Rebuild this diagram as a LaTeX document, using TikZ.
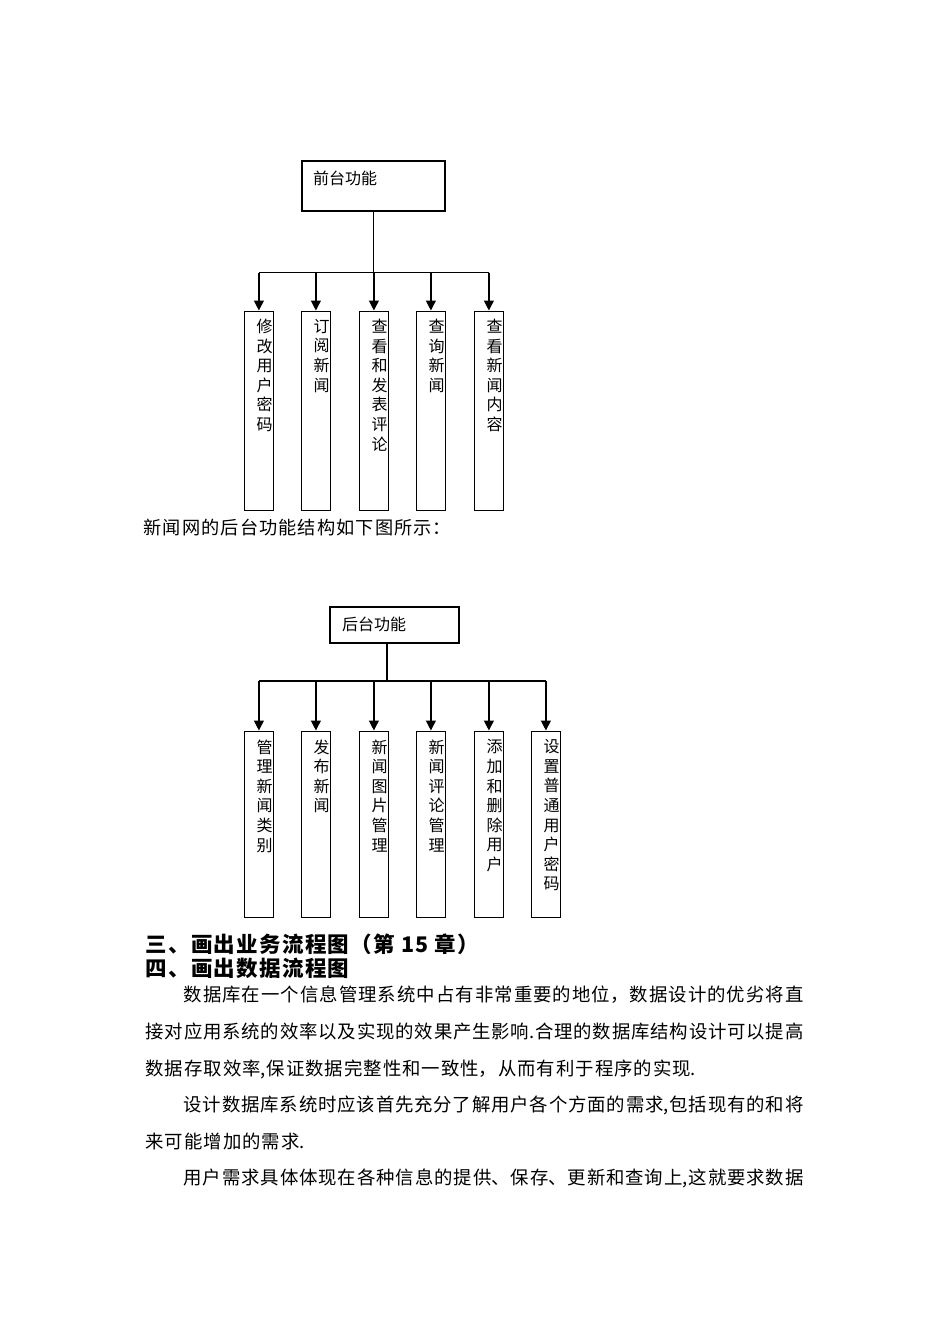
\documentclass[tikz,border=0pt]{standalone}
\usepackage{fontspec}
\newfontfamily\cjk{Noto Sans CJK SC}
\newfontfamily\cjkls[LetterSpace=6]{Noto Sans CJK SC}
\newfontfamily\cjkh[LetterSpace=6]{Noto Sans CJK SC}
\usetikzlibrary{arrows.meta}
\tikzset{
  box/.style={draw, rectangle, inner sep=0pt, line width=1.3pt},
  vbox/.style={box, anchor=north west, minimum width=28.5pt},
  toplabel/.style={anchor=west, inner sep=0pt, font=\cjk\fontsize{16}{16}\selectfont},
  vtext/.style={anchor=north, align=center, text width=17pt, inner sep=0pt,
    font=\cjk\fontsize{16}{19.6}\selectfont},
  arr/.style={-{Triangle[length=10pt,width=10pt]}},
  heading/.style={anchor=west, inner sep=0pt, font=\cjkh\bfseries\fontsize{21.5}{21.5}\selectfont},
  caption/.style={anchor=west, inner sep=0pt, font=\cjkls\fontsize{18.2}{18.2}\selectfont},
  para/.style={anchor=north west, inner sep=0pt, text width=658pt, align=justify,
    font=\cjk\fontsize{18.4}{36.6}\selectfont}
}
\begin{document}
\begin{tikzpicture}[x=1pt, y=-1pt, line width=1.2pt]
\useasboundingbox (0,0) rectangle (950,1344);

% ---------- front-end functions ----------
\node[box, minimum width=143pt, minimum height=50pt] (ftop) at (373.5,186) {};
\node[toplabel] (ftopl) at (312.5,178.5) {前台功能};
\coordinate (fj) at (373.5,272.5);
\foreach \i/\x/\t in {1/244/修\\改\\用\\户\\密\\码,
                      2/301/订\\阅\\新\\闻,
                      3/359/查\\看\\和\\发\\表\\评\\论,
                      4/416/查\\询\\新\\闻,
                      5/474/查\\看\\新\\闻\\内\\容}{
  \node[vbox, minimum height=199pt] (f\i) at (\x,310.5) {};
  \node[vtext] (fl\i) at (\x+20.5,318.5) {\t};
}
\draw (ftop.south) -- (fj);
\draw (f1.north |- fj) -- (f5.north |- fj);
\foreach \i in {1,...,5} \draw[arr] (f\i.north |- fj) -- (f\i.north);

% caption
\node[caption] (cap) at (143,528) {新闻网的后台功能结构如下图所示：};

% ---------- back-end functions ----------
\node[box, minimum width=129pt, minimum height=36pt] (btop) at (394.5,625) {};
\node[toplabel] (btopl) at (341.5,624.5) {后台功能};
\coordinate (bj) at (387,681);
\foreach \i/\x/\t in {1/244/管\\理\\新\\闻\\类\\别,
                      2/301/发\\布\\新\\闻,
                      3/359/新\\闻\\图\\片\\管\\理,
                      4/416/新\\闻\\评\\论\\管\\理,
                      5/474/添\\加\\和\\删\\除\\用\\户,
                      6/531/设\\置\\普\\通\\用\\户\\密\\码}{
  \node[vbox, minimum height=186.5pt] (b\i) at (\x,730.5) {};
  \node[vtext] (bl\i) at (\x+20.5,739) {\t};
}
\draw ([xshift=-7.5pt]btop.south) -- (bj);
\draw (b1.north |- bj) -- (b6.north |- bj);
\foreach \i in {1,...,6} \draw[arr] (b\i.north |- bj) -- (b\i.north);

% ---------- headings ----------
\node[heading] (h3) at (145,944) {三、画出业务流程图（第 15 章）};
\node[heading] (h4) at (145,968) {四、画出数据流程图};

% ---------- body text ----------
\node[para] (body) at (145,985.2) {%
\XeTeXlinebreaklocale "zh"%
\XeTeXlinebreakskip=0.96pt plus 3pt minus 0.6pt%
\parindent=0pt\parskip=0pt\tolerance=9999%
\rule{0pt}{16pt}\hspace*{38pt}数据库在一个信息管理系统中占有非常重要的地位，数据设计的优劣将直\linebreak
接对应用系统的效率以及实现的效果产生影响.合理的数据库结构设计可以提高\linebreak
数据存取效率,保证数据完整性和一致性，从而有利于程序的实现.\par
\hspace*{38pt}设计数据库系统时应该首先充分了解用户各个方面的需求,包括现有的和将\linebreak
来可能增加的需求.\par
{\parfillskip=0pt\hspace*{38pt}用户需求具体体现在各种信息的提供、保存、更新和查询上,这就要求数据\par}%
};
\end{tikzpicture}
\end{document}
